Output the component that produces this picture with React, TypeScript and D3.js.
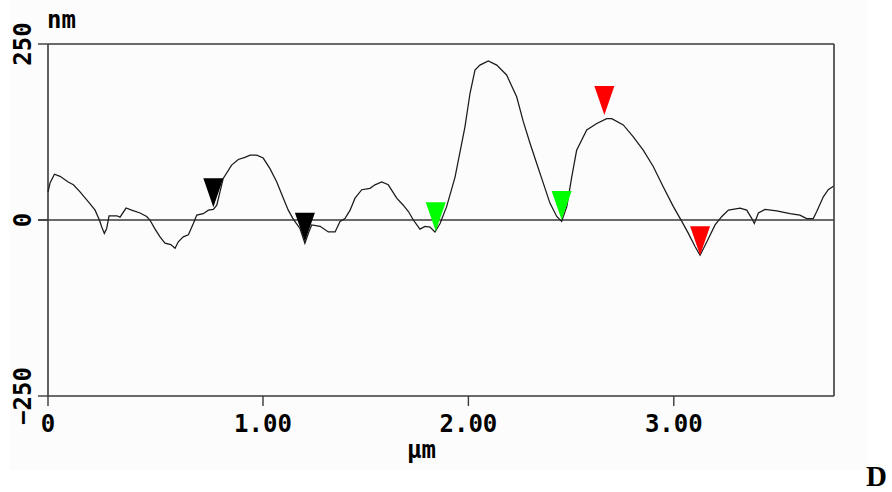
import React from "react";
import * as d3 from "d3";

// Profile (x in µm, height in nm)
const profileX = [0.0, 0.01, 0.03, 0.056, 0.094, 0.118, 0.149, 0.187, 0.219, 0.239, 0.25, 0.262, 0.273, 0.284, 0.32, 0.335, 0.363, 0.389, 0.428, 0.459, 0.474, 0.498, 0.521, 0.544, 0.571, 0.591, 0.606, 0.629, 0.653, 0.676, 0.692, 0.722, 0.746, 0.769, 0.785, 0.815, 0.854, 0.885, 0.916, 0.94, 0.971, 1.001, 1.034, 1.067, 1.099, 1.123, 1.148, 1.18, 1.204, 1.221, 1.237, 1.278, 1.318, 1.351, 1.375, 1.399, 1.424, 1.448, 1.481, 1.521, 1.545, 1.578, 1.61, 1.651, 1.683, 1.708, 1.732, 1.764, 1.789, 1.813, 1.837, 1.862, 1.894, 1.935, 1.983, 2.008, 2.032, 2.056, 2.097, 2.138, 2.186, 2.235, 2.267, 2.3, 2.333, 2.365, 2.397, 2.43, 2.454, 2.479, 2.503, 2.527, 2.576, 2.625, 2.673, 2.698, 2.754, 2.803, 2.852, 2.9, 2.949, 2.998, 3.039, 3.071, 3.104, 3.128, 3.161, 3.201, 3.234, 3.266, 3.323, 3.355, 3.38, 3.392, 3.412, 3.444, 3.501, 3.566, 3.614, 3.647, 3.679, 3.696, 3.728, 3.752, 3.777];
const profileY = [40, 53, 65, 62, 54, 50, 40, 26, 14, 0, -10, -19, -12, 6, 6, 4, 17, 14, 10, 5, 0, -13, -24, -33, -35, -40, -31, -24, -21, -5, 7, 9, 14, 15, 21, 59, 78, 86, 89, 92, 92, 88, 73, 54, 31, 14, 1, -12, -33, -19, -7, -9, -17, -17, -2, 2, 14, 31, 43, 45, 50, 54, 50, 31, 21, 12, 0, -13, -9, -10, -17, -5, 19, 61, 132, 180, 213, 220, 226, 220, 206, 175, 140, 109, 80, 52, 24, 5, -2, 19, 61, 99, 128, 137, 144, 144, 135, 118, 99, 76, 47, 19, -2, -19, -38, -50, -31, -7, 5, 14, 17, 14, 2, -5, 10, 15, 13, 9, 7, 2, 2, 12, 33, 43, 48];

// Cursor markers
const markerX = [0.769, 1.204, 1.841, 2.454, 2.662, 3.128];
const markerY = [18, -31, -16, 0, 149, -50];
const markerColor = ["#000000", "#000000", "#00ff00", "#00ff00", "#ff0000", "#ff0000"];

// Axis ticks
const xTicks = [0, 1, 2, 3];
const xTickLabels = ["0", "1.00", "2.00", "3.00"];
const yTicks = [250, 0, -250];
const yTickLabels = ["250", "0", "\u2212250"];

export default function App() {
  const left = 48, right = 834, top = 44, bottom = 396;
  const xEnd = 3.78;
  const x = d3.scaleLinear().domain([0, 1, xEnd]).range([left, 263, right]);
  const y = d3.scaleLinear().domain([-250, 250]).range([bottom, top]);

  const line = d3
    .line<number>()
    .x((_, i) => x(profileX[i]))
    .y((d) => y(d))
    .curve(d3.curveLinear);

  const font = "'DejaVu Sans Mono', monospace";
  const axisColor = "#3a3a3a";
  const triW = 20, triH = 29;

  return (
    <svg
      width={892}
      height={492}
      style={{ position: "absolute", left: 0, top: 0, background: "#ffffff" }}
    >
      <rect x={10} y={0} width={858} height={470} fill="#fcfcfc" />
      {/* frame */}
      <line x1={left} y1={top} x2={right} y2={top} stroke={axisColor} strokeWidth={1.6} />
      <line x1={right} y1={top} x2={right} y2={bottom} stroke={axisColor} strokeWidth={1.6} />
      <line x1={left} y1={top} x2={left} y2={bottom} stroke={axisColor} strokeWidth={1.6} />
      <line x1={left} y1={bottom} x2={right} y2={bottom} stroke={axisColor} strokeWidth={1.6} />
      {/* zero line */}
      <line x1={left - 10} y1={y(0)} x2={right} y2={y(0)} stroke={axisColor} strokeWidth={1.4} />
      {/* y ticks */}
      {yTicks.map((t, i) => (
        <g key={"yt" + i}>
          <line x1={left - 10} y1={y(t)} x2={left} y2={y(t)} stroke={axisColor} strokeWidth={1.4} />
          <text
            transform={`translate(31,${y(t)}) rotate(-90)`}
            textAnchor="middle"
            fontFamily={font}
            fontWeight="bold"
            fontSize={24}
            fill="#000"
          >
            {yTickLabels[i]}
          </text>
        </g>
      ))}
      {/* x ticks */}
      {xTicks.map((t, i) => (
        <g key={"xt" + i}>
          <line x1={x(t)} y1={bottom} x2={x(t)} y2={bottom + 10} stroke={axisColor} strokeWidth={1.4} />
          <text
            x={x(t)}
            y={432}
            textAnchor="middle"
            fontFamily={font}
            fontWeight="bold"
            fontSize={24}
            fill="#000"
          >
            {xTickLabels[i]}
          </text>
        </g>
      ))}
      {/* unit labels */}
      <text x={47} y={28} fontFamily={font} fontWeight="bold" fontSize={24} fill="#000">
        nm
      </text>
      <text x={407} y={458} fontFamily={font} fontWeight="bold" fontSize={24} fill="#000">
        µm
      </text>
      {/* profile */}
      <path d={line(profileY) || ""} fill="none" stroke="#1a1a1a" strokeWidth={1.25} />
      {/* markers */}
      {markerX.map((mx, i) => {
        const cx = x(mx);
        const cy = y(markerY[i]);
        const d = `M${cx - triW / 2},${cy - triH} L${cx + triW / 2},${cy - triH} L${cx},${cy} Z`;
        return <path key={"m" + i} d={d} fill={markerColor[i]} />;
      })}
      {/* panel letter */}
      <text
        x={887}
        y={486}
        textAnchor="end"
        fontFamily="'Liberation Serif', 'Times New Roman', serif"
        fontWeight="bold"
        fontSize={29}
        fill="#000"
      >
        D
      </text>
    </svg>
  );
}
